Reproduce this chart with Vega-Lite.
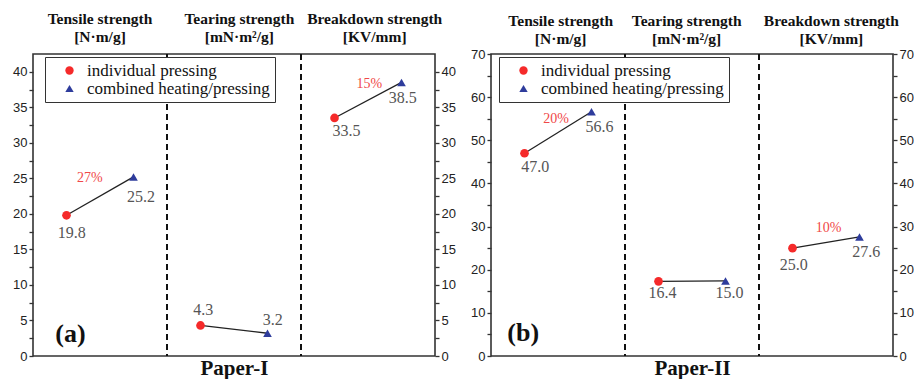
{
  "$schema": "https://vega.github.io/schema/vega-lite/v6.json",
  "autosize": {"type": "pad"},
  "padding": {"left": 10, "top": 11, "right": 0, "bottom": 0},
  "background": "white",
  "spacing": 10,
  "config": {
    "view": {"stroke": "#333", "strokeWidth": 1.6},
    "axis": {"labelFont": "Liberation Sans", "labelFontSize": 13, "labelColor": "#222", "tickColor": "#333", "domain": false, "grid": false, "tickSize": 4, "tickWidth": 1.3, "labelPadding": 2, "minExtent": 22, "maxExtent": 22}
  },
  "datasets": {
    "pts": [
      {"panel": "a", "prop": "Tensile", "method": "individual pressing", "x": 0.25, "y": 19.8},
      {"panel": "a", "prop": "Tensile", "method": "combined heating/pressing", "x": 0.75, "y": 25.2},
      {"panel": "a", "prop": "Tearing", "method": "individual pressing", "x": 1.25, "y": 4.3},
      {"panel": "a", "prop": "Tearing", "method": "combined heating/pressing", "x": 1.75, "y": 3.2},
      {"panel": "a", "prop": "Breakdown", "method": "individual pressing", "x": 2.25, "y": 33.5},
      {"panel": "a", "prop": "Breakdown", "method": "combined heating/pressing", "x": 2.75, "y": 38.5},
      {"panel": "b", "prop": "Tensile", "method": "individual pressing", "x": 0.25, "y": 47.0},
      {"panel": "b", "prop": "Tensile", "method": "combined heating/pressing", "x": 0.75, "y": 56.6},
      {"panel": "b", "prop": "Tearing", "method": "individual pressing", "x": 1.25, "y": 17.3},
      {"panel": "b", "prop": "Tearing", "method": "combined heating/pressing", "x": 1.75, "y": 17.4},
      {"panel": "b", "prop": "Breakdown", "method": "individual pressing", "x": 2.25, "y": 25.0},
      {"panel": "b", "prop": "Breakdown", "method": "combined heating/pressing", "x": 2.75, "y": 27.6}
    ],
    "vals": [
      {"panel": "a", "x": 0.29, "y": 17.3, "t": "19.8"},
      {"panel": "a", "x": 0.806, "y": 22.4, "t": "25.2"},
      {"panel": "a", "x": 1.27, "y": 6.5, "t": "4.3"},
      {"panel": "a", "x": 1.79, "y": 5.1, "t": "3.2"},
      {"panel": "a", "x": 2.34, "y": 31.7, "t": "33.5"},
      {"panel": "a", "x": 2.76, "y": 36.3, "t": "38.5"},
      {"panel": "b", "x": 0.33, "y": 43.9, "t": "47.0"},
      {"panel": "b", "x": 0.81, "y": 53.1, "t": "56.6"},
      {"panel": "b", "x": 1.28, "y": 14.5, "t": "16.4"},
      {"panel": "b", "x": 1.78, "y": 14.5, "t": "15.0"},
      {"panel": "b", "x": 2.26, "y": 21.0, "t": "25.0"},
      {"panel": "b", "x": 2.80, "y": 24.0, "t": "27.6"}
    ],
    "pcts": [
      {"panel": "a", "x": 0.425, "y": 25.1, "t": "27%"},
      {"panel": "a", "x": 2.51, "y": 38.3, "t": "15%"},
      {"panel": "b", "x": 0.485, "y": 55.0, "t": "20%"},
      {"panel": "b", "x": 2.52, "y": 29.6, "t": "10%"}
    ],
    "heads": [
      {"panel": "a", "x": 0.5, "y": 46.3, "t": "Tensile strength\n[N·m/g]"},
      {"panel": "a", "x": 1.54, "y": 46.3, "t": "Tearing strength\n[mN·m²/g]"},
      {"panel": "a", "x": 2.55, "y": 46.3, "t": "Breakdown strength\n[KV/mm]"},
      {"panel": "b", "x": 0.52, "y": 75.8, "t": "Tensile strength\n[N·m/g]"},
      {"panel": "b", "x": 1.46, "y": 75.8, "t": "Tearing strength\n[mN·m²/g]"},
      {"panel": "b", "x": 2.54, "y": 75.8, "t": "Breakdown strength\n[KV/mm]"}
    ],
    "tags": [
      {"panel": "a", "x": 0.28, "y": 3.1, "t": "(a)"},
      {"panel": "b", "x": 0.24, "y": 5.3, "t": "(b)"}
    ],
    "seps": [{"x": 1}, {"x": 2}]
  },
  "resolve": {"scale": {"color": "independent", "shape": "independent"}, "legend": {"color": "independent", "shape": "independent"}},
  "hconcat": [
    {
      "width": 402, "height": 302,
      "resolve": {"axis": {"x": "independent", "y": "independent"}},
      "layer": [
        {
          "data": {"name": "seps"},
          "mark": {"type": "rule", "strokeDash": [6, 4], "strokeWidth": 2, "color": "#111"},
          "encoding": {
            "x": {"field": "x", "type": "quantitative", "scale": {"domain": [0, 3], "nice": false, "zero": false},
                  "axis": {"title": "Paper-I", "labels": false, "ticks": false, "titleFont": "Liberation Serif", "titleFontSize": 21, "titleFontWeight": "bold", "titleColor": "#111", "titlePadding": 1, "minExtent": 0, "maxExtent": 0}}
          }
        },
        {
          "data": {"name": "pts"},
          "transform": [{"filter": "datum.panel == 'a'"}],
          "mark": {"type": "line", "color": "#222", "strokeWidth": 1.3},
          "encoding": {
            "x": {"field": "x", "type": "quantitative", "axis": null},
            "y": {"field": "y", "type": "quantitative", "scale": {"domain": [0, 42.5], "nice": false}, "axis": null},
            "detail": {"field": "prop"}
          }
        },
        {
          "data": {"name": "pts"},
          "transform": [{"filter": "datum.panel == 'a'"}],
          "mark": {"type": "point", "filled": true, "size": 75, "opacity": 1},
          "encoding": {
            "x": {"field": "x", "type": "quantitative", "axis": null},
            "y": {"field": "y", "type": "quantitative", "axis": {"orient": "left", "title": null, "values": [0, 2.5, 5, 7.5, 10, 12.5, 15, 17.5, 20, 22.5, 25, 27.5, 30, 32.5, 35, 37.5, 40], "labelExpr": "datum.value % 5 == 0 ? datum.label : ''"}},
            "color": {"field": "method", "type": "nominal", "scale": {"domain": ["individual pressing", "combined heating/pressing"], "range": ["#f52a2a", "#2e3c9c"]},
                      "legend": {"orient": "none", "legendX": 12, "legendY": 3, "title": null, "fillColor": "white", "strokeColor": "#333", "padding": 5, "rowPadding": 0, "symbolOffset": 11, "labelOffset": 9, "labelFont": "Liberation Serif", "labelFontSize": 17, "labelColor": "#111", "labelLimit": 400, "symbolSize": 70, "zindex": 1}},
            "shape": {"field": "method", "type": "nominal", "scale": {"domain": ["individual pressing", "combined heating/pressing"], "range": ["circle", "triangle-up"]},
                      "legend": {"orient": "none", "legendX": 12, "legendY": 3, "title": null, "fillColor": "white", "strokeColor": "#333", "padding": 5, "rowPadding": 0, "symbolOffset": 11, "labelOffset": 9, "labelFont": "Liberation Serif", "labelFontSize": 17, "labelColor": "#111", "labelLimit": 400, "symbolSize": 70, "zindex": 1}}
          }
        },
        {
          "data": {"name": "vals"},
          "transform": [{"filter": "datum.panel == 'a'"}],
          "mark": {"type": "text", "font": "Liberation Serif", "fontSize": 16, "color": "#555"},
          "encoding": {
            "x": {"field": "x", "type": "quantitative", "axis": null},
            "y": {"field": "y", "type": "quantitative", "axis": {"orient": "right", "title": null, "values": [0, 2.5, 5, 7.5, 10, 12.5, 15, 17.5, 20, 22.5, 25, 27.5, 30, 32.5, 35, 37.5, 40], "labelExpr": "datum.value % 5 == 0 ? datum.label : ''"}},
            "text": {"field": "t"}
          }
        },
        {
          "data": {"name": "pcts"},
          "transform": [{"filter": "datum.panel == 'a'"}],
          "mark": {"type": "text", "font": "Liberation Serif", "fontSize": 14, "color": "#f04848"},
          "encoding": {
            "x": {"field": "x", "type": "quantitative", "axis": null},
            "y": {"field": "y", "type": "quantitative", "axis": null},
            "text": {"field": "t"}
          }
        },
        {
          "data": {"name": "heads"},
          "transform": [{"filter": "datum.panel == 'a'"}],
          "mark": {"type": "text", "font": "Liberation Serif", "fontSize": 15.5, "fontWeight": "bold", "color": "#111", "baseline": "bottom", "lineBreak": "\n", "lineHeight": 18},
          "encoding": {
            "x": {"field": "x", "type": "quantitative", "axis": null},
            "y": {"field": "y", "type": "quantitative", "axis": null},
            "text": {"field": "t"}
          }
        },
        {
          "data": {"name": "tags"},
          "transform": [{"filter": "datum.panel == 'a'"}],
          "mark": {"type": "text", "font": "Liberation Serif", "fontSize": 26, "fontWeight": "bold", "color": "#111"},
          "encoding": {
            "x": {"field": "x", "type": "quantitative", "axis": null},
            "y": {"field": "y", "type": "quantitative", "axis": null},
            "text": {"field": "t"}
          }
        }
      ]
    },
    {
      "width": 402, "height": 302,
      "resolve": {"axis": {"x": "independent", "y": "independent"}},
      "layer": [
        {
          "data": {"name": "seps"},
          "mark": {"type": "rule", "strokeDash": [6, 4], "strokeWidth": 2, "color": "#111"},
          "encoding": {
            "x": {"field": "x", "type": "quantitative", "scale": {"domain": [0, 3], "nice": false, "zero": false},
                  "axis": {"title": "Paper-II", "labels": false, "ticks": false, "titleFont": "Liberation Serif", "titleFontSize": 21, "titleFontWeight": "bold", "titleColor": "#111", "titlePadding": 1, "minExtent": 0, "maxExtent": 0}}
          }
        },
        {
          "data": {"name": "pts"},
          "transform": [{"filter": "datum.panel == 'b'"}],
          "mark": {"type": "line", "color": "#222", "strokeWidth": 1.3},
          "encoding": {
            "x": {"field": "x", "type": "quantitative", "axis": null},
            "y": {"field": "y", "type": "quantitative", "scale": {"domain": [0, 70], "nice": false}, "axis": null},
            "detail": {"field": "prop"}
          }
        },
        {
          "data": {"name": "pts"},
          "transform": [{"filter": "datum.panel == 'b'"}],
          "mark": {"type": "point", "filled": true, "size": 75, "opacity": 1},
          "encoding": {
            "x": {"field": "x", "type": "quantitative", "axis": null},
            "y": {"field": "y", "type": "quantitative", "axis": {"orient": "left", "title": null, "values": [0, 5, 10, 15, 20, 25, 30, 35, 40, 45, 50, 55, 60, 65, 70], "labelExpr": "datum.value % 10 == 0 ? datum.label : ''"}},
            "color": {"field": "method", "type": "nominal", "scale": {"domain": ["individual pressing", "combined heating/pressing"], "range": ["#f52a2a", "#2e3c9c"]},
                      "legend": {"orient": "none", "legendX": 8, "legendY": 3, "title": null, "fillColor": "white", "strokeColor": "#333", "padding": 5, "rowPadding": 0, "symbolOffset": 11, "labelOffset": 9, "labelFont": "Liberation Serif", "labelFontSize": 17, "labelColor": "#111", "labelLimit": 400, "symbolSize": 70, "zindex": 1}},
            "shape": {"field": "method", "type": "nominal", "scale": {"domain": ["individual pressing", "combined heating/pressing"], "range": ["circle", "triangle-up"]},
                      "legend": {"orient": "none", "legendX": 8, "legendY": 3, "title": null, "fillColor": "white", "strokeColor": "#333", "padding": 5, "rowPadding": 0, "symbolOffset": 11, "labelOffset": 9, "labelFont": "Liberation Serif", "labelFontSize": 17, "labelColor": "#111", "labelLimit": 400, "symbolSize": 70, "zindex": 1}}
          }
        },
        {
          "data": {"name": "vals"},
          "transform": [{"filter": "datum.panel == 'b'"}],
          "mark": {"type": "text", "font": "Liberation Serif", "fontSize": 16, "color": "#555"},
          "encoding": {
            "x": {"field": "x", "type": "quantitative", "axis": null},
            "y": {"field": "y", "type": "quantitative", "axis": {"orient": "right", "title": null, "values": [0, 5, 10, 15, 20, 25, 30, 35, 40, 45, 50, 55, 60, 65, 70], "labelExpr": "datum.value % 10 == 0 ? datum.label : ''"}},
            "text": {"field": "t"}
          }
        },
        {
          "data": {"name": "pcts"},
          "transform": [{"filter": "datum.panel == 'b'"}],
          "mark": {"type": "text", "font": "Liberation Serif", "fontSize": 14, "color": "#f04848"},
          "encoding": {
            "x": {"field": "x", "type": "quantitative", "axis": null},
            "y": {"field": "y", "type": "quantitative", "axis": null},
            "text": {"field": "t"}
          }
        },
        {
          "data": {"name": "heads"},
          "transform": [{"filter": "datum.panel == 'b'"}],
          "mark": {"type": "text", "font": "Liberation Serif", "fontSize": 15.5, "fontWeight": "bold", "color": "#111", "baseline": "bottom", "lineBreak": "\n", "lineHeight": 18},
          "encoding": {
            "x": {"field": "x", "type": "quantitative", "axis": null},
            "y": {"field": "y", "type": "quantitative", "axis": null},
            "text": {"field": "t"}
          }
        },
        {
          "data": {"name": "tags"},
          "transform": [{"filter": "datum.panel == 'b'"}],
          "mark": {"type": "text", "font": "Liberation Serif", "fontSize": 26, "fontWeight": "bold", "color": "#111"},
          "encoding": {
            "x": {"field": "x", "type": "quantitative", "axis": null},
            "y": {"field": "y", "type": "quantitative", "axis": null},
            "text": {"field": "t"}
          }
        }
      ]
    }
  ]
}
